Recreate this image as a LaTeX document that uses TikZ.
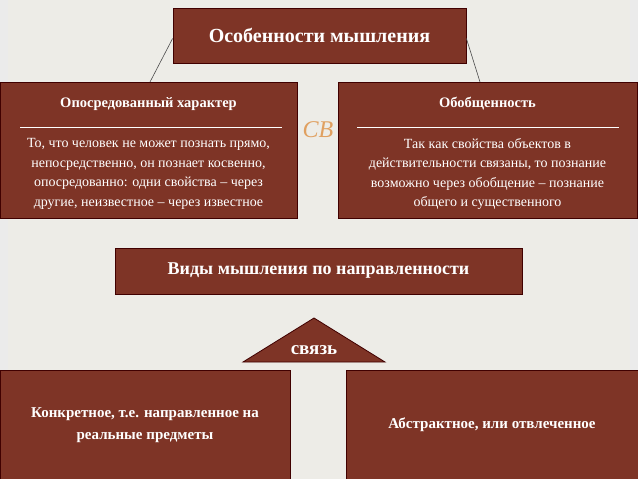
\documentclass[tikz,border=0pt]{standalone}
\usepackage{fontspec}
\setmainfont{Liberation Serif}
\begin{document}
\begin{tikzpicture}[x=1pt,y=-1pt,
  box/.style={draw=black!75!red, line width=0.8pt, fill=boxc, text=white, inner sep=0pt},
  link/.style={draw=black!70, line width=0.6pt}]
\definecolor{boxc}{HTML}{7E3426}
\definecolor{bgc}{HTML}{EDECE7}
\definecolor{orn}{HTML}{E0A060}
\useasboundingbox (0,0) rectangle (638,479);
\fill[bgc] (0,0) rectangle (638,479);
\fill[black!8] (0,0) rectangle (8,479);
\fill[black!8] (630,0) rectangle (638,479);
\node[box, minimum width=293, minimum height=55, font=\bfseries\fontsize{20}{24}\selectfont] (top) at (319.5,35.5) {Особенности мышления};
\node[box, minimum width=297, minimum height=136] (l) at (148.5,150) {};
\node[box, minimum width=299, minimum height=136] (r) at (487.5,150) {};
\node[text=white, font=\bfseries\fontsize{14.5}{17}\selectfont] (lt) at (148.5,104) {Опосредованный характер};
\node[text=white, font=\bfseries\fontsize{14.5}{17}\selectfont] (rt) at (487.5,104) {Обобщенность};
\draw[white, line width=0.5pt] (20,127) -- (282,127);
\draw[white, line width=0.5pt] (357,127) -- (619,127);
\node[text=white, align=center, font=\fontsize{14}{19.5}\selectfont] (lb) at (148.5,174) {То, что человек не может познать прямо,\\непосредственно, он познает косвенно,\\опосредованно: одни свойства – через\\другие, неизвестное – через известное};
\node[text=white, align=center, font=\fontsize{14}{19.5}\selectfont] (rb) at (487.5,174) {Так как свойства объектов в\\действительности связаны, то познание\\возможно через обобщение – познание\\общего и существенного};
\node[text=orn, font=\itshape\fontsize{24}{24}\selectfont] (or) at (318,130) {CB};
\draw[link] (top.west) ++(0,3) coordinate (tl) -- (150,82) coordinate (lc);
\draw[link] (top.east) ++(0,3) coordinate (tr) -- (480,82) coordinate (rc);
\node[box, minimum width=407, minimum height=46, font=\bfseries\fontsize{18}{21}\selectfont] (mid) at (318.5,271) {Виды мышления по направленности};
\draw[box] (243,362) coordinate (ta) -- (314,318) coordinate (tb) -- (385,362) coordinate (tc) -- cycle;
\node[text=white, font=\bfseries\fontsize{19}{21}\selectfont] (sv) at (314,350) {связь};
\node[box, minimum width=290, minimum height=110, align=center, font=\bfseries\fontsize{15}{22}\selectfont] (bl) at (145,425) {Конкретное, т.е. направленное на\\реальные предметы};
\node[box, minimum width=292, minimum height=110, font=\bfseries\fontsize{15}{18}\selectfont] (br) at (492,425) {Абстрактное, или отвлеченное};
\end{tikzpicture}
\end{document}
